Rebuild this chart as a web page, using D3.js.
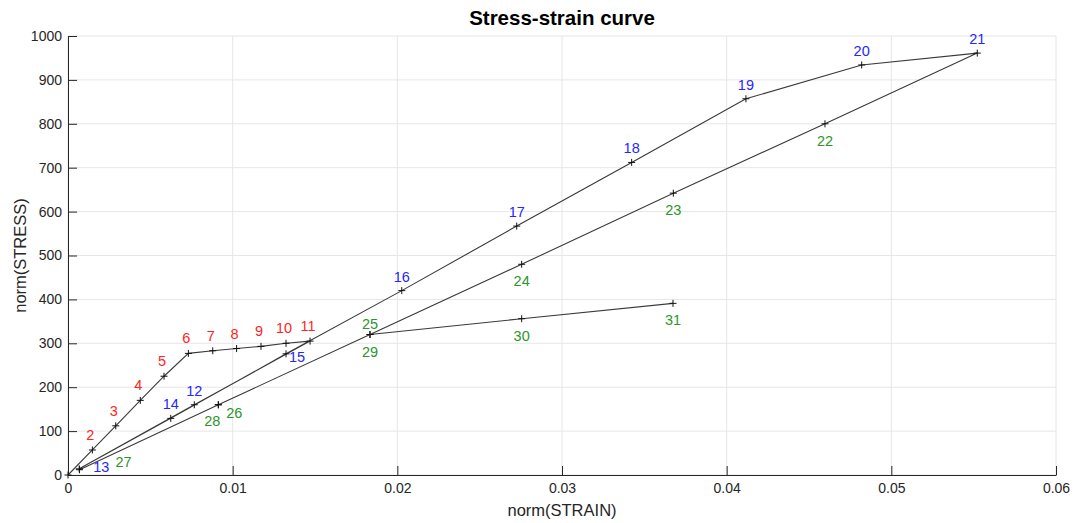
<!DOCTYPE html>
<html>
<head>
<meta charset="utf-8">
<script src="https://cdn.jsdelivr.net/npm/d3@7"></script>
<style>
  html, body { margin: 0; padding: 0; background: #fff; }
  svg { display: block; font-family: "Liberation Sans", Arial, Helvetica, sans-serif; }
</style>
</head>
<body>
<svg id="chart" width="1075" height="523"></svg>
<script>
// Load path: point number, strain and stress (in load order)
const pointIds = [1, 2, 3, 4, 5, 6, 7, 8, 9, 10, 11, 12, 13, 14, 15, 16, 17, 18, 19, 20, 21,
                  22, 23, 24, 25, 26, 27, 28, 29, 30, 31];
const strain = [0, 0.00148, 0.0029, 0.00439, 0.00583, 0.00731, 0.00879, 0.01024, 0.01172, 0.01324, 0.0147,
                0.00767, 0.00068, 0.00624, 0.01324, 0.02027, 0.02725, 0.03423, 0.04117, 0.0482, 0.05522,
                0.04597, 0.03676, 0.02755, 0.01834, 0.00913, 0.0007, 0.00913, 0.01834, 0.02755, 0.03674];
const stress = [0, 57, 112, 170, 225, 277, 283, 288, 293, 300, 305,
                160, 14, 129, 276, 420, 567, 712, 857, 934, 961,
                800, 642, 480, 320, 160, 12, 160, 320, 356, 391];

const xTicks = [0, 0.01, 0.02, 0.03, 0.04, 0.05, 0.06];
const yTicks = [0, 100, 200, 300, 400, 500, 600, 700, 800, 900, 1000];

// Label styling per loading stage
const stageColor = id => id <= 11 ? "#ff2424" : id <= 21 ? "#2626ff" : "#2b962b";
const stageOffset = id => id <= 11 ? [-2, -15] : id <= 21 ? [0, -14] : [0, 17];
// Labels that are nudged away from overlapping curves
const labelNudge = { 13: [22, -2], 15: [11, 3], 25: [0, -11], 26: [16, 8], 27: [44, -8], 28: [-6, 16] };

const svg = d3.select("#chart");
const m = { left: 68, right: 1056, top: 36, bottom: 475 };

const x = d3.scaleLinear().domain([0, 0.06]).range([m.left, m.right]);
const y = d3.scaleLinear().domain([0, 1000]).range([m.bottom, m.top]);

// Grid
const grid = svg.append("g");
grid.selectAll("line.gx").data(xTicks).join("line")
  .attr("x1", d => x(d)).attr("x2", d => x(d))
  .attr("y1", m.top).attr("y2", m.bottom)
  .attr("stroke", "#e6e6e6").attr("stroke-width", 1);
grid.selectAll("line.gy").data(yTicks).join("line")
  .attr("x1", m.left).attr("x2", m.right)
  .attr("y1", d => y(d)).attr("y2", d => y(d))
  .attr("stroke", "#e6e6e6").attr("stroke-width", 1);

// Axes with inward ticks
const xAxis = svg.append("g").attr("transform", `translate(0,${m.bottom})`)
  .call(d3.axisBottom(x).tickValues(xTicks).tickSizeInner(-9).tickSizeOuter(0)
        .tickFormat(d => d === 0 ? "0" : d3.format(".2~f")(d)));
xAxis.selectAll("text").attr("y", 8).attr("dy", "0.71em");
const yAxis = svg.append("g").attr("transform", `translate(${m.left},0)`)
  .call(d3.axisLeft(y).tickValues(yTicks).tickSizeInner(-9).tickSizeOuter(0)
        .tickFormat(d3.format("d")));
yAxis.selectAll("text").attr("x", -6);
[xAxis, yAxis].forEach(a => {
  a.select(".domain").attr("stroke", "#262626").attr("stroke-width", 1);
  a.selectAll(".tick line").attr("stroke", "#262626");
  a.selectAll("text").attr("fill", "#262626").style("font-size", "14px")
    .style("font-family", "'Liberation Sans', Arial, sans-serif");
});

// Curve
const pts = pointIds.map((id, i) => ({ id, sx: strain[i], sy: stress[i] }));
const line = d3.line().x(d => x(d.sx)).y(d => y(d.sy));
svg.append("path").datum(pts)
  .attr("d", line).attr("fill", "none")
  .attr("stroke", "#3a3a3a").attr("stroke-width", 1.1);

// '+' markers
const mk = 3.5;
const markers = svg.append("g").attr("stroke", "#111").attr("stroke-width", 1);
pts.forEach(p => {
  const px = x(p.sx), py = y(p.sy);
  markers.append("line").attr("x1", px - mk).attr("x2", px + mk).attr("y1", py).attr("y2", py);
  markers.append("line").attr("x1", px).attr("x2", px).attr("y1", py - mk).attr("y2", py + mk);
});

// Point numbers
svg.append("g").selectAll("text").data(pts.filter(p => p.id > 1)).join("text")
  .attr("x", p => x(p.sx) + (labelNudge[p.id] || stageOffset(p.id))[0])
  .attr("y", p => y(p.sy) + (labelNudge[p.id] || stageOffset(p.id))[1])
  .attr("text-anchor", "middle").attr("dominant-baseline", "central")
  .attr("fill", p => stageColor(p.id))
  .style("font-size", "14.5px")
  .text(p => p.id);

// Title and axis labels
svg.append("text").attr("x", (m.left + m.right) / 2).attr("y", 25)
  .attr("text-anchor", "middle").style("font-size", "20.5px").style("font-weight", "bold")
  .attr("fill", "#000").text("Stress-strain curve");
svg.append("text").attr("x", (m.left + m.right) / 2).attr("y", 516)
  .attr("text-anchor", "middle").style("font-size", "16.5px").attr("fill", "#262626")
  .text("norm(STRAIN)");
svg.append("text").attr("transform", `translate(26,${(m.top + m.bottom) / 2}) rotate(-90)`)
  .attr("text-anchor", "middle").style("font-size", "16.5px").attr("fill", "#262626")
  .text("norm(STRESS)");
</script>
</body>
</html>
